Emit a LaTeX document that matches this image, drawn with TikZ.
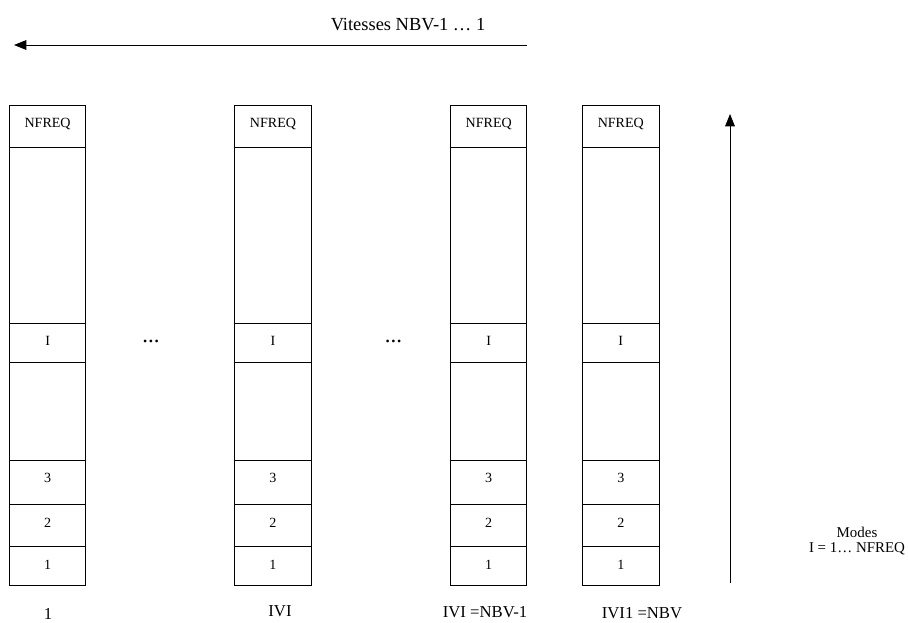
\documentclass[tikz,border=0pt]{standalone}
\usepackage{fontspec}
\setmainfont{Liberation Serif}
\usetikzlibrary{arrows.meta, positioning}

\begin{document}
\begin{tikzpicture}[x=0.02cm, y=-0.02cm, >={Triangle[length=7pt, width=5.5pt]},
    node distance=0cm,
    cell/.style={draw, line width=0.5pt, minimum width=1.526cm, minimum height=#1,
                 inner sep=0pt, outer sep=0pt},
    celltext/.style={anchor=north, inner sep=0pt, yshift=-2.6mm,
                     font=\fontsize{8}{9}\selectfont},
    colname/.style={font=\fontsize{9.5}{11}\selectfont}]
  \useasboundingbox (0,0) rectangle (908,622);

  % one column of the table per speed
  \foreach \cx/\nm/\lx/\ly/\lab in {47.6/a/48/614/1, 273/b/280/611/IVI,
      488.7/c/485/612/{IVI =NBV-1}, 620.8/d/642/613/{IVI1 =NBV}} {
    \node[cell=0.84cm, label={[celltext]north:NFREQ}] (\nm7) at (\cx,126) {};
    \node[cell=3.52cm, below=of \nm7] (\nm6) {};
    \node[cell=0.78cm, below=of \nm6, label={[celltext]north:I}] (\nm5) {};
    \node[cell=1.96cm, below=of \nm5] (\nm4) {};
    \node[cell=0.90cm, below=of \nm4, label={[celltext]north:3}] (\nm3) {};
    \node[cell=0.84cm, below=of \nm3, label={[celltext]north:2}] (\nm2) {};
    \node[cell=0.78cm, below=of \nm2, label={[celltext]north:1}] (\nm1) {};
    \node[colname] (\nm lab) at (\lx,\ly) {\lab};
  }

  \node[font=\fontsize{13}{14}\selectfont] (dots1) at (151,341) {...};
  \node[font=\fontsize{13}{14}\selectfont] (dots2) at (393.5,341) {...};

  % speeds
  \coordinate (vstart) at (527,45);
  \coordinate (vend) at (14,45);
  \draw[->, line width=0.5pt] (vstart) -- (vend);
  \node[font=\fontsize{10.5}{12}\selectfont] (vit) at (408,25) {Vitesses NBV-1 … 1};

  % modes
  \coordinate (mstart) at (730,583);
  \coordinate (mend) at (730,114);
  \draw[->, line width=0.5pt] (mstart) -- (mend);
  \node[align=center, font=\fontsize{8.5}{8.5}\selectfont] (modes) at (857,541)
    {Modes\\I = 1… NFREQ};
\end{tikzpicture}
\end{document}
